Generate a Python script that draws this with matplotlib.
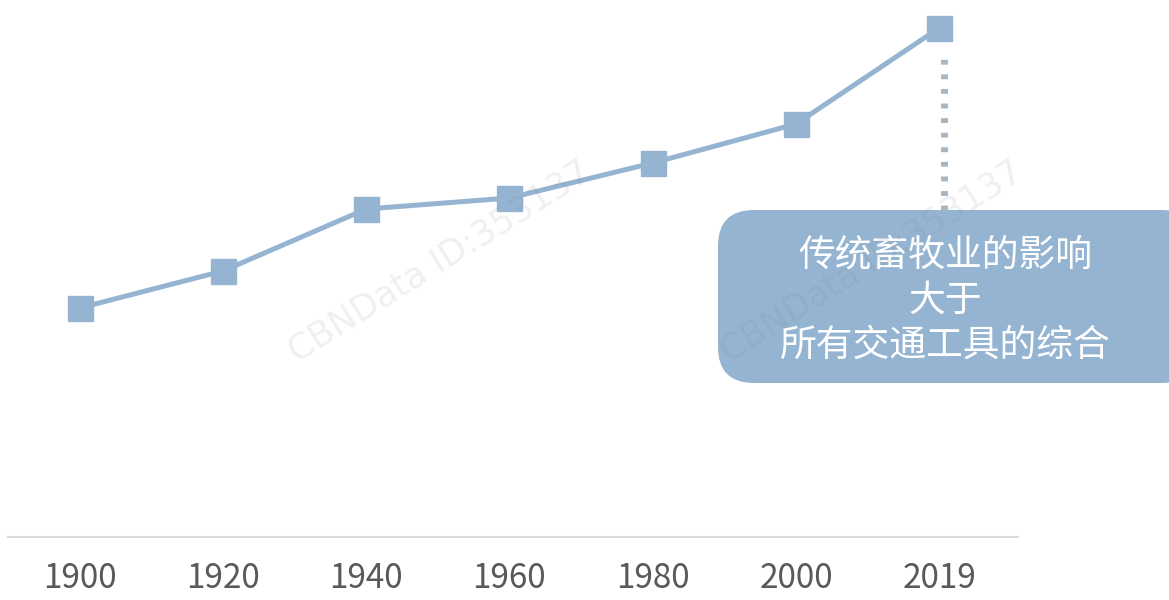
import matplotlib
matplotlib.use("Agg")
import matplotlib.pyplot as plt
from matplotlib.patches import FancyBboxPatch

plt.rcParams['font.family'] = ['Noto Sans CJK SC', 'DejaVu Sans']

years = ["1900", "1920", "1940", "1960", "1980", "2000", "2019"]
values = [229, 266, 328, 339, 374, 413, 509]
note = "传统畜牧业的影响\n大于\n所有交通工具的综合"
watermark = "CBNData ID:353137"

line_color = "#94B4D2"
W, H = 1169, 600
fig = plt.figure(figsize=(W / 100, H / 100), dpi=100)
ax = fig.add_axes([8 / W, (H - 537) / H, 1010 / W, 537 / H])
ax.set_xlim(-0.5, 6.55)
ax.set_ylim(0, 537)

x = list(range(len(years)))
ax.plot(x, values, color=line_color, lw=3.6, marker="s", ms=18,
        mfc=line_color, mec=line_color, zorder=3, solid_capstyle="butt")

# dotted leader from last point to note box
ax.plot([x[-1] + 0.03, x[-1] + 0.03], [537 - 210, 537 - 55], color="#A8B5C3",
        lw=5, linestyle=(0, (0.7, 1.4)), dash_capstyle="butt", zorder=2)

for s in ["top", "right", "left"]:
    ax.spines[s].set_visible(False)
ax.spines["bottom"].set_color("#D9D9D9")
ax.spines["bottom"].set_linewidth(1.5)
ax.set_yticks([])
ax.set_xticks(x)
ax.set_xticklabels(years, fontsize=24, color="#595959")
ax.tick_params(axis="x", length=0, pad=17)

# note box
box = FancyBboxPatch((7.18, (H - 383) / 100), 4.8, 1.73,
                     boxstyle="round,pad=0,rounding_size=0.36",
                     transform=fig.dpi_scale_trans, facecolor=line_color,
                     edgecolor="none", zorder=4)
fig.patches.append(box)
fig.text(945 / W, 1 - 300 / H, note, ha="center", va="center", color="white",
         fontsize=26.5, linespacing=1.2, zorder=5)

# faint watermarks
for cx, cy in [(440, 262), (872, 262)]:
    fig.text(cx / W, 1 - cy / H, watermark, ha="center", va="center",
             rotation=32, fontsize=25, color="#808080", alpha=0.12, zorder=6,
             family=["DejaVu Sans"])

fig.savefig("out.png", dpi=100)
